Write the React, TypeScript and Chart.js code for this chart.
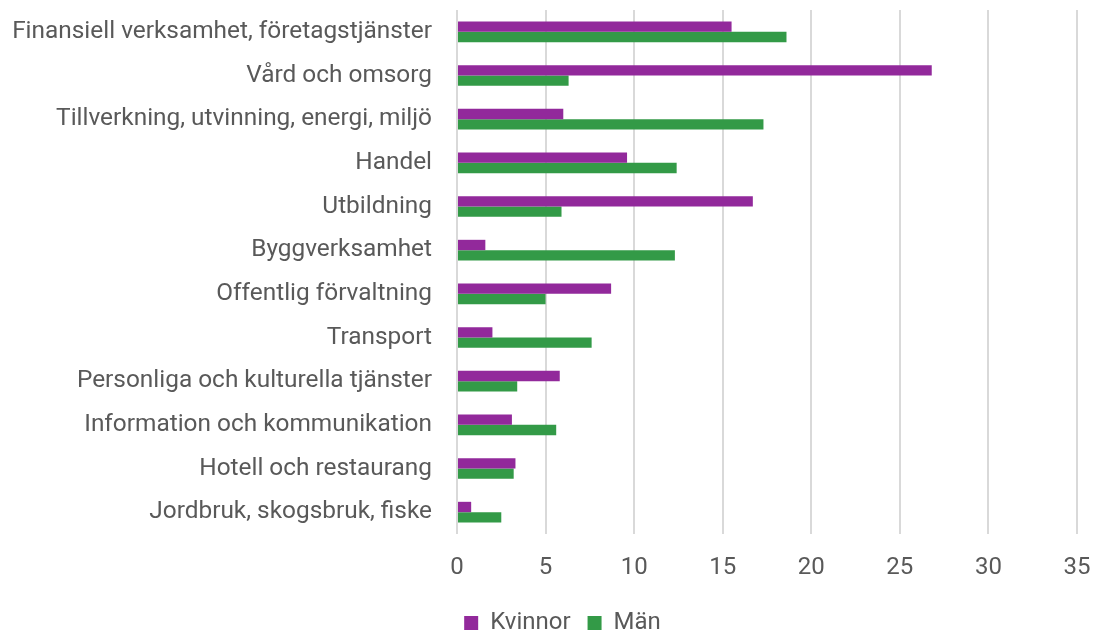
import React, { useEffect, useRef } from "react";
import { Chart, registerables } from "chart.js";

Chart.register(...registerables);

const categories = [
  "Finansiell verksamhet, företagstjänster",
  "Vård och omsorg",
  "Tillverkning, utvinning, energi, miljö",
  "Handel",
  "Utbildning",
  "Byggverksamhet",
  "Offentlig förvaltning",
  "Transport",
  "Personliga och kulturella tjänster",
  "Information och kommunikation",
  "Hotell och restaurang",
  "Jordbruk, skogsbruk, fiske",
];

const kvinnor = [15.5, 26.8, 6.0, 9.6, 16.7, 1.6, 8.7, 2.0, 5.8, 3.1, 3.3, 0.8];
const man = [18.6, 6.3, 17.3, 12.4, 5.9, 12.3, 5.0, 7.6, 3.4, 5.6, 3.2, 2.5];

const xTicks = [0, 5, 10, 15, 20, 25, 30, 35];

const PURPLE = "#92299b";
const GREEN = "#339a47";
const TEXT = "#595959";
const GRID = "#d9d9d9";

const legendShift = {
  id: "legendShift",
  afterLayout(chart: any) {
    if (chart.legend) {
      chart.legend.left += 24;
      chart.legend.right += 24;
    }
  },
};

export default function App() {
  const ref = useRef<HTMLCanvasElement | null>(null);

  useEffect(() => {
    if (!ref.current) return;
    const chart = new Chart(ref.current, {
      type: "bar",
      data: {
        labels: categories,
        datasets: [
          {
            label: "Kvinnor",
            data: kvinnor,
            backgroundColor: PURPLE,
            categoryPercentage: 0.474,
            barPercentage: 1,
          },
          {
            label: "Män",
            data: man,
            backgroundColor: GREEN,
            categoryPercentage: 0.474,
            barPercentage: 1,
          },
        ],
      },
      plugins: [legendShift],
      options: {
        indexAxis: "y",
        animation: false,
        responsive: false,
        maintainAspectRatio: false,
        layout: { padding: { top: 10, right: 16, left: 0, bottom: -11 } },
        plugins: {
          tooltip: { enabled: false },
          legend: {
            position: "bottom",
            labels: {
              color: TEXT,
              font: { family: "Roboto", size: 24 },
              boxWidth: 14,
              boxHeight: 14,
              padding: 17,
            },
          },
        },
        scales: {
          x: {
            min: 0,
            max: 35,
            afterBuildTicks: (scale: any) => {
              scale.ticks = xTicks.map((v) => ({ value: v }));
            },
            afterFit: (scale: any) => {
              scale.height = 60;
              scale.paddingLeft = 0;
              scale.paddingRight = 0;
            },
            grid: { color: GRID, lineWidth: 2, drawTicks: false },
            border: { display: false },
            ticks: {
              color: TEXT,
              font: { family: "Roboto", size: 24 },
              padding: 20,
            },
          },
          y: {
            afterFit: (scale: any) => {
              scale.width = 457;
              scale.paddingTop = 0;
              scale.paddingBottom = 0;
            },
            grid: { display: false, drawTicks: false },
            border: { display: false },
            ticks: {
              color: TEXT,
              font: { family: "Roboto", size: 24.4 },
              padding: 25,
              autoSkip: false,
            },
          },
        },
      },
    });
    return () => chart.destroy();
  }, []);

  return (
    <div style={{ position: "fixed", left: 0, top: 0, width: 1093, height: 634, background: "#fff" }}>
      <canvas ref={ref} width={1093} height={634} style={{ width: 1093, height: 634 }} />
    </div>
  );
}
